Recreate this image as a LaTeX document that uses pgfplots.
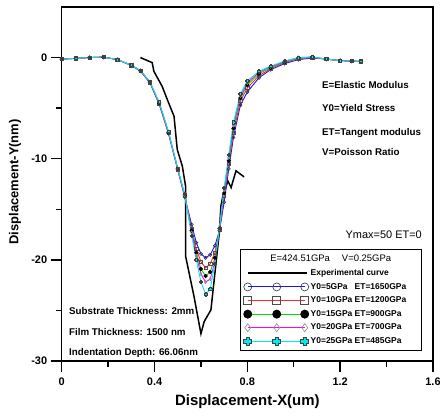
\documentclass[border=0pt]{standalone}
\usepackage{pgfplots}
\pgfplotsset{compat=1.18}
\usepackage{pgfplotstable}
\usepackage{fontspec}
\setmainfont{Liberation Sans}

\definecolor{cblue}{RGB}{20,20,255}
\definecolor{cred}{RGB}{255,40,40}
\definecolor{cgreen}{RGB}{0,220,0}
\definecolor{cmag}{RGB}{255,0,255}
\definecolor{ccyan}{RGB}{0,235,235}

\pgfdeclareplotmark{gcross}{%
  \pgfpathmoveto{\pgfpoint{-0.4\pgfplotmarksize}{\pgfplotmarksize}}%
  \pgfpathlineto{\pgfpoint{0.4\pgfplotmarksize}{\pgfplotmarksize}}%
  \pgfpathlineto{\pgfpoint{0.4\pgfplotmarksize}{0.4\pgfplotmarksize}}%
  \pgfpathlineto{\pgfpoint{\pgfplotmarksize}{0.4\pgfplotmarksize}}%
  \pgfpathlineto{\pgfpoint{\pgfplotmarksize}{-0.4\pgfplotmarksize}}%
  \pgfpathlineto{\pgfpoint{0.4\pgfplotmarksize}{-0.4\pgfplotmarksize}}%
  \pgfpathlineto{\pgfpoint{0.4\pgfplotmarksize}{-\pgfplotmarksize}}%
  \pgfpathlineto{\pgfpoint{-0.4\pgfplotmarksize}{-\pgfplotmarksize}}%
  \pgfpathlineto{\pgfpoint{-0.4\pgfplotmarksize}{-0.4\pgfplotmarksize}}%
  \pgfpathlineto{\pgfpoint{-\pgfplotmarksize}{-0.4\pgfplotmarksize}}%
  \pgfpathlineto{\pgfpoint{-\pgfplotmarksize}{0.4\pgfplotmarksize}}%
  \pgfpathlineto{\pgfpoint{-0.4\pgfplotmarksize}{0.4\pgfplotmarksize}}%
  \pgfpathclose
  \pgfusepathqfillstroke}

\pgfplotstableread{
x     b      r      g      m      c
0.00  -0.15  -0.15  -0.15  -0.15  -0.15
0.06  -0.08  -0.08  -0.08  -0.08  -0.08
0.12   0.00   0.00   0.00   0.00   0.00
0.18   0.05   0.05   0.05   0.05   0.05
0.24  -0.20  -0.20  -0.20  -0.20  -0.20
0.30  -0.78  -0.77  -0.76  -0.75  -0.75
0.34  -1.35  -1.32  -1.30  -1.30  -1.30
0.38  -2.50  -2.45  -2.42  -2.40  -2.40
0.42  -4.60  -4.55  -4.50  -4.45  -4.40
0.46  -7.50  -7.45  -7.40  -7.35  -7.30
0.50  -11.10 -11.05 -11.00 -11.00 -11.00
0.53  -13.80 -13.70 -13.60 -13.60 -13.50
0.56  -16.50 -16.90 -17.10 -17.30 -17.60
0.58  -18.30 -18.90 -19.30 -19.60 -20.00
0.60  -19.40 -20.20 -20.90 -21.40 -22.20
0.62  -19.80 -20.80 -21.60 -22.20 -23.40
0.64  -19.50 -20.40 -21.20 -21.90 -22.90
0.66  -18.60 -19.30 -19.80 -20.20 -20.40
0.68  -17.10 -17.00 -16.90 -16.90 -16.80
0.70  -14.30 -13.70 -13.40 -13.10 -12.90
0.72  -11.00 -10.50 -10.20  -9.90  -9.60
0.74   -7.90  -7.40  -7.00  -6.70  -6.40
0.77   -4.70  -4.30  -4.00  -3.80  -3.60
0.80   -3.40  -3.00  -2.70  -2.50  -2.30
0.85   -2.00  -1.80  -1.60  -1.45  -1.35
0.90   -1.20  -1.10  -1.00  -0.90  -0.85
0.96   -0.60  -0.50  -0.45  -0.40  -0.35
1.02   -0.20  -0.10  -0.05   0.00   0.00
1.08   -0.05   0.00   0.05   0.05   0.05
1.14   -0.15  -0.15  -0.15  -0.15  -0.15
1.20   -0.30  -0.30  -0.30  -0.30  -0.30
1.25   -0.35  -0.35  -0.35  -0.35  -0.35
1.29   -0.37  -0.37  -0.37  -0.37  -0.37
}\sims

\pgfplotstableread{
x      y
0.339  0.00
0.390 -0.50
0.397 -1.35
0.433 -2.85
0.455 -4.15
0.484 -5.80
0.491 -7.45
0.498 -9.10
0.520 -10.75
0.534 -12.75
0.534 -19.65
0.570 -23.60
0.600 -27.30
0.614 -26.10
0.643 -24.95
0.679 -17.35
0.686 -14.70
0.694 -13.75
0.716 -12.20
0.730 -12.85
0.751 -11.20
0.786 -11.80
}\expdata

\begin{document}
\begin{tikzpicture}
\path[use as bounding box] (0,0) rectangle (440bp,416bp);
\begin{axis}[
  at={(61.7bp,55bp)}, anchor=south west,
  scale only axis, width=371.3bp, height=354bp,
  xmin=0, xmax=1.6, ymin=-30, ymax=5,
  xtick={0,0.4,0.8,1.2,1.6}, ytick={-30,-20,-10,0},
  minor x tick num=1, minor y tick num=1,
  xtick pos=bottom, ytick pos=left,
  tick align=outside,
  major tick length=11bp, minor tick length=6bp,
  axis line style={line width=1.4bp},
  every tick/.style={line width=1.4bp, black},
  /pgf/number format/assume math mode=true,
  ticklabel style={font=\bfseries\fontsize{11}{13}\selectfont},
  xticklabel style={yshift=-2bp},
  xlabel={Displacement-X(um)},
  ylabel={Displacement-Y(nm)},
  xlabel style={font=\bfseries\fontsize{15}{18}\selectfont, anchor=center, at={(axis description cs:0.5,-0.116)}},
  ylabel style={font=\bfseries\fontsize{13}{16}\selectfont, anchor=center, at={(axis description cs:-0.126,0.506)}},
  legend cell align=left,
  legend style={at={(axis description cs:0.971,0.316)}, anchor=north east,
    draw=black, line width=1bp, fill=white,
    font=\bfseries\fontsize{8.5}{10}\selectfont,
    inner xsep=3bp, inner ysep=3.5bp, row sep=2.2bp},
  mark size=1.6bp,
]
\addlegendimage{empty legend}
\addlegendentry[font=\fontsize{9.5}{11}\selectfont]{\hspace*{-66bp}\makebox[172bp][c]{E=424.51GPa\hspace{12bp}V=0.25GPa}}

\addplot[black, line width=1.5bp, no markers,
  legend image code/.code={\draw[black, line width=1.5bp] (0bp,0bp) -- (59bp,0bp);}]
  table[x=x, y=y] {\expdata};
\addlegendentry{Experimental curve}

\pgfplotsset{sim/.style={legend image code/.code={\draw[##1, mark size=4bp] plot coordinates {(0bp,0bp) (29bp,0bp) (57bp,0bp)};}}}

\addplot[cblue, line width=0.9bp, sim, mark=o, mark options={draw=black!80, line width=0.6bp}]
  table[x=x, y=b] {\sims};
\addlegendentry{\makebox[44bp][l]{Y0=5GPa}ET=1650GPa}

\addplot[cred, line width=0.9bp, sim, mark=square, mark options={draw=black!70, line width=0.6bp}]
  table[x=x, y=r] {\sims};
\addlegendentry{\makebox[44bp][l]{Y0=10GPa}ET=1200GPa}

\addplot[cgreen, line width=0.9bp, sim, mark=*, mark options={draw=black, fill=black}]
  table[x=x, y=g] {\sims};
\addlegendentry{\makebox[44bp][l]{Y0=15GPa}ET=900GPa}

\addplot[cmag, line width=0.9bp, sim, mark=diamond, mark options={draw=black!45, line width=0.6bp}]
  table[x=x, y=m] {\sims};
\addlegendentry{\makebox[44bp][l]{Y0=20GPa}ET=700GPa}

\addplot[ccyan, line width=0.9bp, sim, mark=gcross, mark options={draw=black!75, fill=ccyan, line width=0.6bp}]
  table[x=x, y=c] {\sims};
\addlegendentry{\makebox[44bp][l]{Y0=25GPa}ET=485GPa}
\end{axis}

\begin{scope}[every node/.style={inner sep=0pt}]
\node[anchor=west, font=\bfseries\fontsize{9.8}{11}\selectfont] at (322bp,331bp) {E=Elastic Modulus};
\node[anchor=west, font=\bfseries\fontsize{9.8}{11}\selectfont] at (322bp,308bp) {Y0=Yield Stress};
\node[anchor=west, font=\bfseries\fontsize{9.8}{11}\selectfont] at (322bp,283bp) {ET=Tangent modulus};
\node[anchor=west, font=\bfseries\fontsize{9.8}{11}\selectfont] at (322bp,264bp) {V=Poisson Ratio};
\node[anchor=east, font=\fontsize{11}{13}\selectfont] at (422bp,181bp) {Ymax=50 ET=0};
\node[anchor=west, font=\bfseries\fontsize{9.8}{11}\selectfont] at (69bp,105bp) {Substrate Thickness: 2mm};
\node[anchor=west, font=\bfseries\fontsize{9.8}{11}\selectfont] at (69bp,84bp) {Film Thickness: 1500 nm};
\node[anchor=west, font=\bfseries\fontsize{9.8}{11}\selectfont] at (69bp,63bp) {Indentation Depth: 66.06nm};
\end{scope}
\end{tikzpicture}
\end{document}
